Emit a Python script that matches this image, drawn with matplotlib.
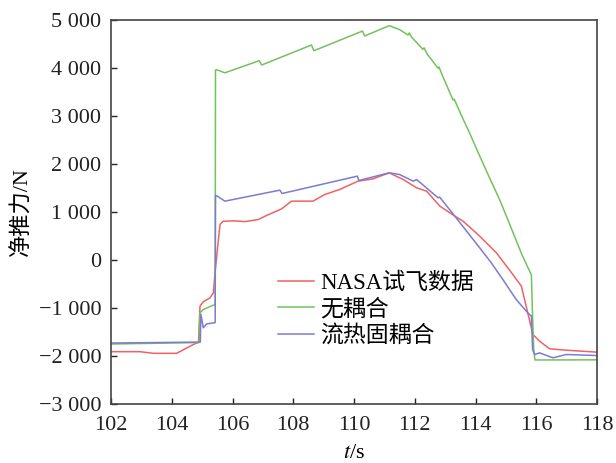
import matplotlib
matplotlib.use("Agg")
import matplotlib.pyplot as plt
from matplotlib.ticker import FuncFormatter, MultipleLocator

# ---- data ----
t_nasa = [102.0, 102.95, 103.39, 104.16, 104.71, 104.88, 104.93, 105.04, 105.26, 105.37,
          105.42, 105.53, 105.59, 105.69, 106.08, 106.41, 106.85, 107.12, 107.62, 107.94,
          108.65, 109.04, 109.53, 110.13, 110.63, 111.16, 111.62, 112.06, 112.39, 112.83,
          113.32, 113.59, 114.14, 114.69, 115.23, 115.51, 115.72, 115.89, 116.11, 116.44,
          116.99, 118.0]
v_nasa = [-1910, -1910, -1944, -1944, -1760, -1715, -962, -870, -788, -684,
          -302, 392, 740, 808, 815, 800, 844, 927, 1066, 1226,
          1226, 1365, 1469, 1642, 1691, 1816, 1677, 1504, 1434, 1121,
          913, 809, 496, 149, -302, -545, -1100, -1552, -1691, -1850,
          -1879, -1920]

t_none = [102.0, 104.9, 104.93, 105.04, 105.37, 105.43, 105.44, 105.5, 105.75, 106.88,
          106.96, 108.6, 108.68, 110.28, 110.35, 111.16, 111.5, 111.78, 111.82, 111.9,
          112.27, 112.31, 112.4, 112.77, 112.8, 112.9, 113.26, 113.3, 113.53, 113.81,
          114.08, 114.47, 114.8, 115.18, 115.51, 115.84, 115.88, 115.92, 115.96, 118.0]
v_none = [-1750, -1720, -1101, -1031, -941, -935, 3958, 3960, 3900, 4152,
          4062, 4479, 4360, 4770, 4667, 4882, 4800, 4687, 4730, 4640,
          4389, 4420, 4300, 3993, 4020, 3860, 3333, 3350, 3021, 2639,
          2250, 1701, 1250, 660, 139, -313, -1200, -1900, -2083, -2080]

t_fsi = [102.0, 104.94, 104.96, 105.04, 105.15, 105.4, 105.43, 105.44, 105.5, 105.75,
         107.56, 107.63, 110.11, 110.16, 111.16, 111.5, 111.95, 112.06, 112.77, 112.82,
         113.32, 113.75, 114.14, 114.52, 114.9, 115.34, 115.72, 115.84, 115.88, 115.95,
         116.11, 116.55, 116.99, 117.98]
v_fsi = [-1730, -1710, -1135, -1413, -1330, -1309, -1300, 1344, 1330, 1226,
         1455, 1385, 1747, 1656, 1816, 1781, 1642, 1677, 1295, 1310,
         913, 566, 253, -59, -406, -823, -1100, -1170, -1865, -1969,
         -1935, -2038, -1969, -1990]

labels = ["NASA试飞数据", "无耦合", "流热固耦合"]
colors = ["#f06262", "#72c25e", "#7b7bd2"]

x_ticks = [102, 104, 106, 108, 110, 112, 114, 116, 118]

plt.rcParams['font.family'] = ['Liberation Serif', 'Noto Sans CJK SC']
plt.rcParams['mathtext.fontset'] = 'stix'

fig = plt.figure(figsize=(6.16, 4.63), dpi=100)
ax = fig.add_axes([111/616, 1-404/463, (597-111)/616, (404-20)/463])

ax.plot(t_nasa, v_nasa, color=colors[0], lw=1.1, label=labels[0])
ax.plot(t_none, v_none, color=colors[1], lw=1.1, label=labels[1])
ax.plot(t_fsi, v_fsi, color=colors[2], lw=1.1, label=labels[2])

ax.set_xlim(102, 118)
ax.set_ylim(-3000, 5000)
ax.set_xticks(x_ticks)
ax.yaxis.set_major_locator(MultipleLocator(1000))

def fmt(v, pos):
    s = f"{abs(int(round(v))):,}".replace(",", " ")
    return ("\u2212" + s) if v < 0 else s

ax.yaxis.set_major_formatter(FuncFormatter(fmt))
ax.tick_params(direction='in', length=4, width=1, labelsize=16, colors='#222222',
               top=False, right=False)
ax.tick_params(axis='x', pad=9)
ax.tick_params(axis='y', pad=7)
for sp in ax.spines.values():
    sp.set_color('#444444')
    sp.set_linewidth(1.2)

ax.set_xlabel("$t$/s", fontsize=16, labelpad=6)
ax.set_ylabel("净推力/N", fontsize=16, labelpad=4)

leg = ax.legend(loc='upper left', bbox_to_anchor=(0.343, 0.342), frameon=False,
                fontsize=16.5, handlelength=1.6, handletextpad=0.25, labelspacing=0.2,
                borderaxespad=0, borderpad=0)

fig.savefig("out.png", dpi=100)
